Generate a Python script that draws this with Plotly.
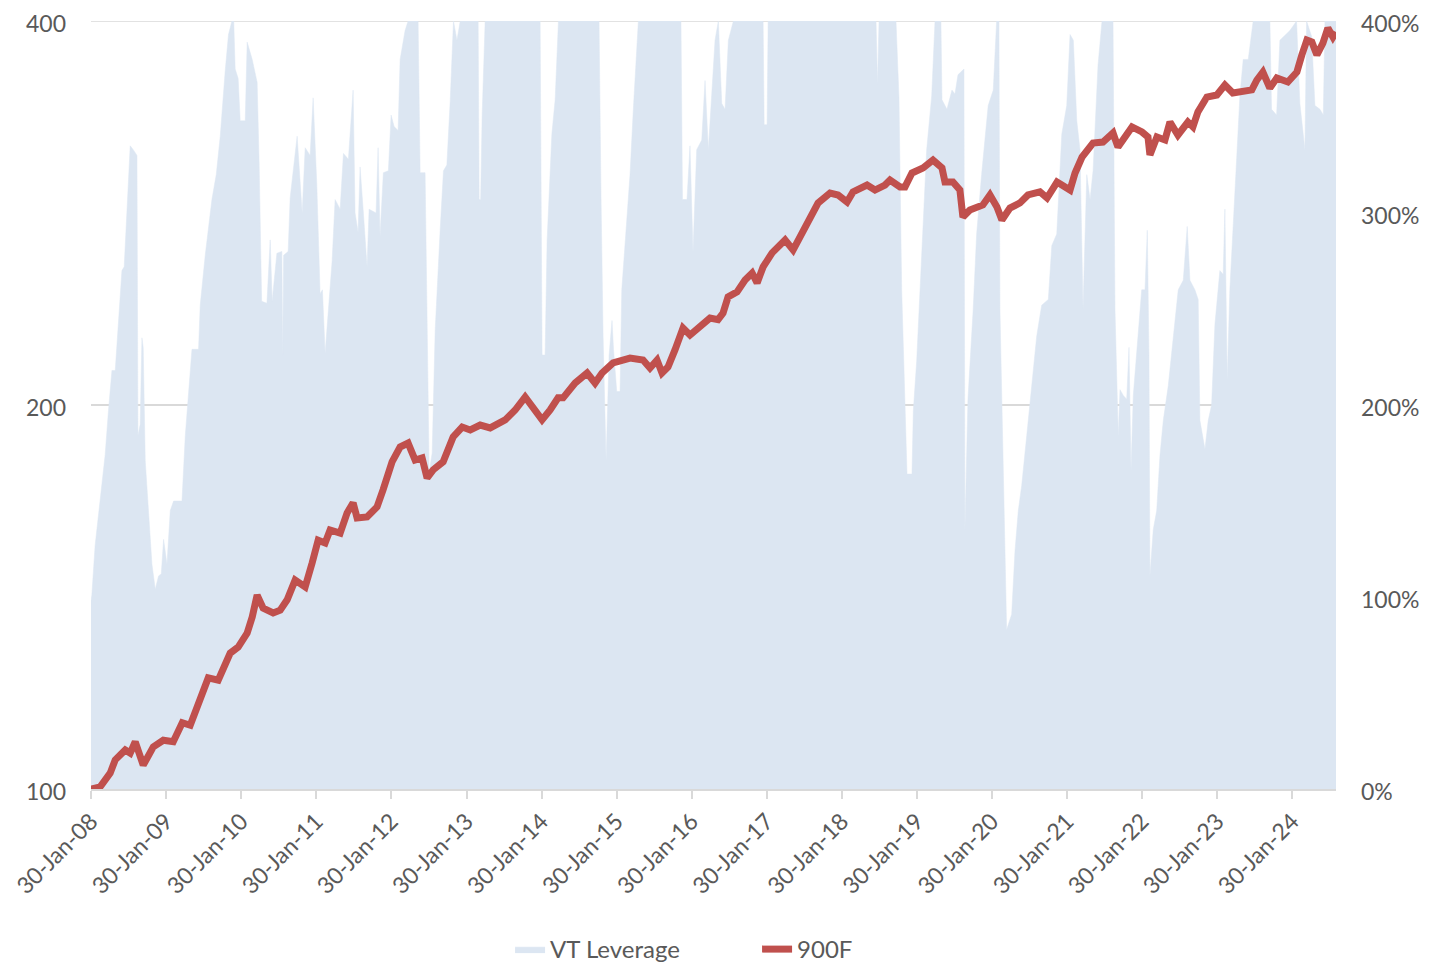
import pandas as pd
import plotly.graph_objects as go

# ---------------- data ----------------
# VT Leverage (right axis, %), time in decimal years
lev_year = [
    2008.080, 2008.091, 2008.135, 2008.179, 2008.224, 2008.268, 2008.312, 2008.358, 2008.402, 2008.446,
    2008.491, 2008.521, 2008.557, 2008.601, 2008.641, 2008.691, 2008.704, 2008.734, 2008.757, 2008.774,
    2008.801, 2008.845, 2008.890, 2008.934, 2008.978, 2009.014, 2009.045, 2009.090, 2009.134, 2009.178,
    2009.290, 2009.334, 2009.378, 2009.423, 2009.511, 2009.533, 2009.600, 2009.689, 2009.747, 2009.800,
    2009.866, 2009.910, 2009.956, 2009.980, 2009.999, 2010.039, 2010.066, 2010.133, 2010.159, 2010.226,
    2010.292, 2010.319, 2010.352, 2010.422, 2010.466, 2010.492, 2010.555, 2010.621, 2010.632, 2010.645,
    2010.705, 2010.732, 2010.825, 2010.892, 2010.932, 2010.998, 2011.038, 2011.087, 2011.131, 2011.162,
    2011.198, 2011.242, 2011.291, 2011.331, 2011.398, 2011.442, 2011.508, 2011.571, 2011.597, 2011.637,
    2011.664, 2011.708, 2011.757, 2011.784, 2011.877, 2011.904, 2011.930, 2011.974, 2012.041, 2012.077,
    2012.117, 2012.170, 2012.197, 2012.263, 2012.303, 2012.436, 2012.463, 2012.529, 2012.556, 2012.583,
    2012.623, 2012.663, 2012.729, 2012.773, 2012.818, 2012.862, 2012.906, 2012.952, 2012.996, 2013.235,
    2013.248, 2013.268, 2013.288, 2013.328, 2014.061, 2014.087, 2014.127, 2014.154, 2014.217, 2014.261,
    2014.305, 2014.846, 2014.873, 2014.900, 2014.940, 2014.980, 2015.019, 2015.039, 2015.082, 2015.126,
    2015.149, 2015.215, 2015.259, 2015.303, 2015.370, 2015.938, 2015.958, 2016.018, 2016.058, 2016.098,
    2016.147, 2016.214, 2016.258, 2016.302, 2016.347, 2016.391, 2016.435, 2016.480, 2016.524, 2016.568,
    2016.635, 2017.030, 2017.044, 2017.083, 2017.097, 2018.535, 2018.555, 2018.575, 2018.801, 2018.841,
    2018.877, 2018.921, 2018.948, 2019.014, 2019.032, 2019.077, 2019.121, 2019.165, 2019.210, 2019.277,
    2019.321, 2019.400, 2019.414, 2019.480, 2019.547, 2019.587, 2019.627, 2019.707, 2019.720, 2019.760,
    2019.830, 2019.876, 2019.942, 2020.030, 2020.097, 2020.142, 2020.173, 2020.186, 2020.230, 2020.275,
    2020.342, 2020.386, 2020.430, 2020.475, 2020.542, 2020.608, 2020.675, 2020.741, 2020.829, 2020.875,
    2020.941, 2021.008, 2021.074, 2021.118, 2021.162, 2021.208, 2021.251, 2021.291, 2021.341, 2021.385,
    2021.425, 2021.491, 2021.544, 2021.691, 2021.717, 2021.761, 2021.784, 2021.828, 2021.873, 2021.904,
    2021.931, 2021.961, 2022.007, 2022.073, 2022.117, 2022.148, 2022.170, 2022.183, 2022.227, 2022.273,
    2022.317, 2022.361, 2022.427, 2022.494, 2022.560, 2022.627, 2022.680, 2022.716, 2022.782, 2022.826,
    2022.849, 2022.916, 2022.960, 2023.005, 2023.049, 2023.115, 2023.159, 2023.182, 2023.213, 2023.248,
    2023.293, 2023.338, 2023.382, 2023.426, 2023.493, 2023.559, 2023.782, 2023.804, 2023.871, 2023.915,
    2024.048, 2024.137, 2024.181, 2024.248, 2024.270, 2024.337, 2024.381, 2024.448, 2024.492, 2024.514,
    2024.661,
]
lev_pct = [
    98, 101, 127, 142, 157, 174, 197, 218, 218, 243,
    270, 272, 300, 335, 333, 330, 184, 190, 235, 230,
    171, 145, 117, 104, 111, 112, 130, 117, 145, 150,
    150, 184, 208, 229, 229, 252, 278, 307, 320, 340,
    374, 393, 400, 400, 375, 370, 348, 348, 389, 380,
    368, 325, 254, 253, 286, 254, 279, 280, 226, 278,
    280, 308, 340, 300, 334, 330, 360, 315, 258, 260,
    227, 249, 275, 307, 302, 331, 328, 364, 300, 290,
    324, 300, 272, 302, 300, 334, 288, 321, 322, 351,
    345, 343, 380, 395, 400, 400, 321, 321, 250, 165,
    175, 239, 291, 322, 325, 358, 400, 390, 400, 400,
    307, 307, 351, 400, 400, 226, 226, 286, 341, 359,
    400, 400, 307, 236, 171, 226, 244, 229, 207, 207,
    260, 296, 320, 354, 400, 400, 307, 307, 335, 280,
    333, 338, 369, 333, 361, 390, 400, 357, 354, 390,
    400, 400, 346, 346, 400, 400, 367, 400, 400, 360,
    260, 203, 164, 164, 197, 223, 257, 294, 333, 361,
    400, 400, 359, 354, 364, 362, 372, 375, 135, 203,
    250, 289, 320, 356, 364, 400, 400, 250, 171, 83,
    91, 124, 145, 158, 184, 210, 236, 252, 255, 283,
    289, 341, 356, 393, 390, 348, 333, 250, 320, 307,
    322, 377, 400, 400, 250, 184, 208, 205, 203, 230,
    166, 205, 229, 260, 260, 291, 226, 111, 135, 145,
    174, 192, 210, 236, 260, 265, 293, 265, 260, 255,
    192, 177, 192, 200, 242, 270, 268, 302, 213, 260,
    296, 328, 361, 380, 380, 400, 400, 354, 351, 390,
    395, 400, 357, 333, 400, 392, 356, 354, 351, 400,
    400,
]

# 900F index (left log axis), time in decimal years
idx_year = [
    2008.080, 2008.202, 2008.335, 2008.402, 2008.535, 2008.601, 2008.668, 2008.774, 2008.908, 2009.041,
    2009.174, 2009.294, 2009.400, 2009.533, 2009.640, 2009.773, 2009.933, 2010.039, 2010.159, 2010.226,
    2010.292, 2010.372, 2010.505, 2010.599, 2010.692, 2010.798, 2010.932, 2011.025, 2011.105, 2011.198,
    2011.264, 2011.398, 2011.491, 2011.571, 2011.624, 2011.757, 2011.890, 2011.970, 2012.090, 2012.197,
    2012.303, 2012.396, 2012.489, 2012.556, 2012.636, 2012.769, 2012.902, 2013.022, 2013.129, 2013.262,
    2013.395, 2013.595, 2013.728, 2013.861, 2013.994, 2014.087, 2014.194, 2014.300, 2014.367, 2014.527,
    2014.687, 2014.793, 2014.886, 2015.033, 2015.259, 2015.432, 2015.525, 2015.619, 2015.685, 2015.765,
    2015.858, 2015.965, 2016.058, 2016.218, 2016.324, 2016.431, 2016.497, 2016.564, 2016.684, 2016.790,
    2016.884, 2016.950, 2017.030, 2017.150, 2017.323, 2017.430, 2017.549, 2017.656, 2017.762, 2017.922,
    2018.029, 2018.149, 2018.228, 2018.415, 2018.521, 2018.654, 2018.721, 2018.854, 2018.921, 2019.014,
    2019.161, 2019.294, 2019.414, 2019.454, 2019.560, 2019.653, 2019.693, 2019.786, 2019.959, 2020.053,
    2020.146, 2020.212, 2020.319, 2020.452, 2020.559, 2020.718, 2020.812, 2020.945, 2021.118, 2021.185,
    2021.278, 2021.424, 2021.557, 2021.691, 2021.757, 2021.944, 2022.077, 2022.157, 2022.183, 2022.276,
    2022.383, 2022.450, 2022.556, 2022.689, 2022.756, 2022.822, 2022.942, 2023.075, 2023.182, 2023.288,
    2023.422, 2023.541, 2023.608, 2023.688, 2023.781, 2023.874, 2024.021, 2024.141, 2024.207, 2024.274,
    2024.340, 2024.407, 2024.487, 2024.553, 2024.620, 2024.660,
]
idx_val = [
    100.0, 100.4, 102.9, 105.4, 107.3, 106.7, 108.9, 104.4, 107.9, 109.2,
    108.9, 112.7, 112.2, 117.4, 122.2, 121.7, 127.8, 129.2, 132.5, 136.4,
    141.9, 138.6, 137.4, 138.1, 140.7, 145.8, 144.0, 150.4, 156.7, 155.9,
    159.6, 158.7, 164.6, 167.6, 163.1, 163.4, 166.4, 171.6, 180.5, 185.4,
    186.7, 181.1, 181.8, 175.3, 177.9, 180.5, 188.8, 192.2, 191.2, 192.9,
    191.9, 194.7, 198.2, 202.9, 198.2, 194.7, 198.2, 202.6, 202.6, 208.1,
    211.9, 208.1, 211.9, 215.8, 217.7, 216.9, 213.8, 216.9, 211.9, 214.2,
    220.9, 229.8, 226.9, 231.1, 234.0, 233.3, 236.1, 243.1, 245.3, 250.6,
    253.8, 249.3, 256.6, 263.2, 269.4, 264.6, 272.8, 280.8, 288.0, 293.2,
    292.2, 288.5, 293.8, 297.5, 294.8, 297.5, 300.2, 296.5, 296.5, 304.0,
    306.8, 311.2, 306.8, 299.1, 299.1, 294.8, 280.8, 284.4, 287.0, 292.2,
    285.9, 279.3, 285.4, 288.0, 292.2, 293.8, 290.6, 299.1, 294.8, 304.0,
    312.9, 320.9, 321.5, 326.8, 318.6, 330.4, 327.4, 324.4, 314.1, 324.4,
    322.7, 333.3, 325.6, 333.3, 330.4, 339.4, 348.7, 350.0, 356.4, 351.3,
    351.9, 353.2, 359.6, 364.8, 354.4, 360.9, 358.3, 364.8, 376.2, 386.5,
    385.1, 376.2, 384.4, 395.0, 388.6, 392.1,
]

tick_dates = ["2008-01-30", "2009-01-30", "2010-01-30", "2011-01-30", "2012-01-30",
              "2013-01-30", "2014-01-30", "2015-01-30", "2016-01-30", "2017-01-30",
              "2018-01-30", "2019-01-30", "2020-01-30", "2021-01-30", "2022-01-30",
              "2023-01-30", "2024-01-30"]
tick_text = ["30-Jan-08", "30-Jan-09", "30-Jan-10", "30-Jan-11", "30-Jan-12",
             "30-Jan-13", "30-Jan-14", "30-Jan-15", "30-Jan-16", "30-Jan-17",
             "30-Jan-18", "30-Jan-19", "30-Jan-20", "30-Jan-21", "30-Jan-22",
             "30-Jan-23", "30-Jan-24"]
left_ticks = [100, 200, 400]
left_text = ["100", "200", "400"]
right_ticks = [0, 100, 200, 300, 400]
right_text = ["0%", "100%", "200%", "300%", "400%"]


def to_date(t):
    y = int(t)
    start = pd.Timestamp(year=y, month=1, day=1)
    end = pd.Timestamp(year=y + 1, month=1, day=1)
    return start + (end - start) * (t - y)


lev_dates = [to_date(t) for t in lev_year]
idx_dates = [to_date(t) for t in idx_year]

FONT = "Lato, 'Open Sans', sans-serif"
GREY = "#595959"
GRID = "#D9D9D9"
AREA = "rgb(220,230,242)"
RED = "#C0504D"

fig = go.Figure()
fig.add_trace(go.Scatter(
    x=lev_dates, y=lev_pct, name="VT Leverage", mode="lines",
    fill="tozeroy", fillcolor=AREA, line=dict(color=AREA, width=0.5),
    yaxis="y", hoverinfo="skip",
))
fig.add_trace(go.Scatter(
    x=idx_dates, y=idx_val, name="900F", mode="lines",
    line=dict(color=RED, width=7), yaxis="y2",
))

# top gridline (at the last left-axis tick), drawn beneath the traces
fig.add_shape(type="line", xref="paper", x0=0, x1=1, yref="y2",
              y0=left_ticks[-1], y1=left_ticks[-1],
              line=dict(color=GRID, width=1.5), layer="below")

# page body has an 8px default margin, so the figure is offset by 8px
fig.update_layout(
    width=1427, height=960,
    margin=dict(l=83, r=99, t=13, b=179, autoexpand=False),
    paper_bgcolor="white", plot_bgcolor="white",
    font=dict(family=FONT, color=GREY, size=20),
    showlegend=True,
    legend=dict(orientation="h", x=0.3366, xanchor="left", y=-0.209, yanchor="middle",
                font=dict(size=24, color=GREY), entrywidth=202, entrywidthmode="pixels",
                traceorder="normal"),
    xaxis=dict(
        type="date", range=[to_date(2008.080), to_date(2024.661)],
        tickvals=tick_dates, ticktext=tick_text, tickangle=-45,
        ticks="outside", ticklen=8, tickcolor=GRID, tickwidth=1.5,
        showline=True, linecolor=GRID, linewidth=1.5,
        showgrid=False, zeroline=False, automargin=False,
        tickfont=dict(size=23, color=GREY, family=FONT),
    ),
    yaxis=dict(
        side="right", range=[0, 400], tickvals=right_ticks, ticktext=right_text,
        showgrid=False, zeroline=False, showline=False, automargin=False,
        tickfont=dict(size=23, color=GREY, family=FONT), ticks="",
        ticklabelstandoff=24, ticklabeloverflow="allow", ticklabelshift=3,
    ),
    yaxis2=dict(
        overlaying="y", side="left", type="log",
        range=[2, 2.6020600], tickvals=left_ticks, ticktext=left_text,
        showgrid=True, gridcolor=GRID, gridwidth=1.5, zeroline=False,
        showline=False, ticks="", automargin=False,
        tickfont=dict(size=23, color=GREY, family=FONT),
        ticklabelstandoff=24, ticklabeloverflow="allow", ticklabelshift=3,
    ),
)

fig.write_html("out.html")
